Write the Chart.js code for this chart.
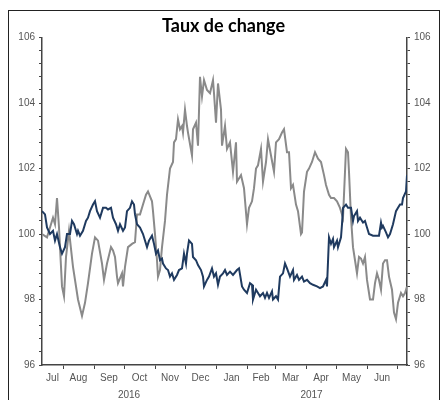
<!DOCTYPE html>
<html>
<head>
<meta charset="utf-8">
<script src="https://cdn.jsdelivr.net/npm/chart.js@4.4.1/dist/chart.umd.min.js"></script>
<style>
  html, body { margin: 0; padding: 0; background: #fff; }
  #wrap { position: relative; width: 447px; height: 400px; overflow: hidden; }
  #frame { position: absolute; left: 8px; top: 10px; width: 432px; height: 400px; border: 1px solid #222; box-sizing: border-box; }
  #chartArea { position: absolute; left: 0; top: 0; }
</style>
</head>
<body>
<div id="wrap">
  <div id="frame"></div>
  <canvas id="chartArea" width="447" height="400"></canvas>
</div>
<script>
// days counted from 11 Jul 2016
const monthStarts = [21, 52, 82, 113, 143, 174, 205, 233, 264, 294, 325, 355];
const monthLabels = ['Jul', 'Aug', 'Sep', 'Oct', 'Nov', 'Dec', 'Jan', 'Feb', 'Mar', 'Apr', 'May', 'Jun'];
const monthMids = [10.5, 36.5, 67, 97.5, 128, 158.5, 189.5, 219, 248.5, 279, 309.5, 340];
const yearLabels = ['2016', '2017'];
const yearMids = [87, 269.5];

const grayDays = [0, 5, 8, 11, 13, 15, 17, 20, 22, 24, 27, 31, 36, 40, 43, 46, 50, 53, 56, 60,
  62, 65, 69, 71, 73, 75, 76, 80, 81, 83, 86, 90, 93, 95, 98, 101, 104, 106, 110, 111,
  113, 115, 116, 118, 120, 123, 125, 128, 131, 132, 134, 136, 138, 140, 141, 143, 145, 146, 150, 151,
  154, 156, 158, 160, 162, 165, 168, 171, 172, 174, 176, 179, 180, 183, 185, 188, 191, 194, 195, 199,
  202, 205, 207, 210, 212, 214, 216, 219, 221, 224, 226, 229, 232, 234, 237, 240, 242, 245, 247, 249,
  251, 254, 256, 259, 260, 262, 265, 267, 270, 273, 276, 279, 282, 284, 287, 289, 292, 295, 298, 301,
  304, 306, 307, 309, 311, 313, 315, 317, 319, 321, 323, 325, 328, 331, 333, 335, 337, 339, 341, 343,
  345, 347, 350, 352, 354, 356, 359, 361, 363, 365];
const grayValues = [100.0, 99.9, 100.2, 100.5, 100.3, 101.1, 100.2, 98.4, 98.1, 99.3, 100.1, 99.0, 98.0, 97.5, 97.9, 98.5, 99.4, 99.9, 99.8, 99.1,
  98.6, 99.1, 99.6, 99.5, 99.3, 98.7, 98.5, 98.8, 98.4, 99.0, 99.6, 99.7, 99.75, 100.6, 100.6, 100.9, 101.2, 101.3, 101.0, 100.7,
  100.0, 99.2, 98.7, 98.9, 99.6, 100.4, 101.2, 102.0, 102.2, 102.8, 102.9, 103.5, 103.2, 103.3, 103.1, 103.8, 103.3, 103.1, 102.4, 103.2,
  103.4, 102.7, 104.8, 104.2, 104.7, 104.4, 104.3, 104.7, 104.3, 103.4, 104.6, 103.8, 102.7, 103.3, 102.6, 102.8, 101.9, 102.8, 101.6, 101.8,
  101.4, 100.3, 100.8, 101.0, 101.4, 102.0, 102.1, 102.6, 101.6, 102.2, 102.9, 102.4, 101.9, 102.8, 102.9, 103.1, 103.2, 102.5, 102.5, 101.4,
  101.5, 100.9, 100.7, 100.0, 100.05, 101.3, 101.9, 102.0, 102.2, 102.5, 102.3, 102.2, 101.8, 101.5, 101.2, 101.1, 101.1, 101.0, 100.8, 100.5,
  102.6, 102.5, 101.9, 100.5, 99.6, 99.2, 98.8, 99.3, 99.25, 99.1, 99.3, 98.6, 98.0, 98.0, 98.5, 98.8, 98.6, 98.3, 99.1, 99.2,
  99.2, 98.7, 98.3, 97.6, 97.4, 97.9, 98.2, 98.1, 98.2, 98.4];

const navyDays = [0, 3, 5, 8, 11, 13, 15, 18, 20, 23, 25, 28, 30, 32, 35, 36, 38, 41, 44, 46,
  48, 51, 53, 55, 58, 61, 64, 66, 69, 71, 74, 76, 78, 81, 83, 85, 88, 90, 92, 93,
  95, 98, 101, 105, 107, 110, 112, 114, 116, 118, 120, 121, 124, 126, 128, 130, 132, 135, 137, 140,
  142, 144, 145, 147, 150, 151, 154, 156, 159, 161, 162, 165, 167, 170, 172, 174, 176, 178, 181, 183,
  185, 188, 191, 195, 197, 200, 202, 205, 208, 210, 211, 214, 216, 218, 221, 223, 225, 227, 230, 231,
  234, 236, 238, 241, 243, 245, 248, 251, 252, 255, 257, 260, 262, 265, 268, 271, 275, 278, 281, 284,
  285, 287, 289, 291, 292, 295, 296, 299, 300, 301, 304, 306, 309, 311, 312, 315, 316, 318, 321, 323,
  325, 327, 331, 335, 337, 339, 340, 341, 344, 346, 348, 351, 354, 356, 358, 360, 361, 364, 365];
const navyValues = [100.7, 100.6, 100.2, 100.0, 100.1, 99.8, 100.0, 99.6, 99.4, 99.6, 100.0, 100.0, 100.4, 100.3, 100.0, 100.1, 99.95, 100.1, 100.4, 100.5,
  100.7, 100.9, 101.0, 100.7, 100.5, 100.8, 100.8, 100.75, 100.8, 100.5, 100.3, 100.1, 100.3, 100.1, 100.2, 100.7, 100.8, 101.0, 100.9, 100.6,
  100.3, 100.2, 100.0, 99.6, 99.8, 99.95, 99.7, 99.4, 99.5, 99.2, 99.25, 99.1, 98.95, 98.9, 98.7, 98.8, 98.6, 98.75, 98.9, 98.95,
  99.4, 99.1, 99.4, 99.8, 99.7, 99.3, 99.2, 99.05, 98.9, 98.7, 98.4, 98.6, 98.7, 98.95, 98.7, 98.8, 98.45, 98.7, 98.8, 98.9,
  98.75, 98.85, 98.75, 98.9, 98.95, 98.4, 98.3, 98.2, 98.5, 98.45, 98.0, 98.3, 98.2, 98.1, 98.2, 98.05, 98.2, 98.05, 98.25, 98.0,
  98.1, 98.0, 98.7, 98.8, 99.1, 98.95, 98.7, 98.9, 98.6, 98.75, 98.6, 98.7, 98.55, 98.6, 98.5, 98.45, 98.4, 98.35, 98.4, 98.6,
  98.4, 99.9, 99.7, 99.85, 99.6, 99.8, 99.6, 99.9, 100.3, 100.8, 100.9, 100.8, 100.8, 100.4, 100.55, 100.7, 100.4, 100.5, 100.35, 100.4,
  100.2, 100.0, 99.95, 99.95, 99.95, 100.35, 100.2, 100.25, 100.05, 99.9, 100.0, 100.3, 100.7, 100.8, 100.9, 100.9, 101.1, 101.3, 101.8];

const yTicks = [];
for (let i = 0; i <= 25; i++) yTicks.push(Math.round((96 + i * 0.4) * 10) / 10);

function toPoints(xs, ys) {
    return xs.map((x, i) => ({ x: x, y: ys[i] }));
}

const axisColor = '#444';
const labelColor = '#555';
const tickFont = { family: 'Liberation Sans', size: 10 };

function yLabel(v) {
    const r = Math.round(v);
    return (Math.abs(v - r) < 1e-6 && r % 2 === 0) ? String(r) : '';
}

function yAxis(position, width) {
    return {
        type: 'linear',
        position: position,
        min: 96,
        max: 106,
        afterBuildTicks: scale => { scale.ticks = yTicks.map(v => ({ value: v })); },
        afterFit: scale => { scale.width = width; },
        grid: { drawOnChartArea: false, drawTicks: true, tickLength: 3, color: axisColor, lineWidth: 1 },
        border: { display: true, color: axisColor, width: 1.5 },
        ticks: { autoSkip: false, color: labelColor, font: tickFont, padding: 4, callback: v => yLabel(v) }
    };
}

function xAxis(values, labels, height, pad, showLine) {
    return {
        type: 'linear',
        position: 'bottom',
        min: 0,
        max: 365,
        afterBuildTicks: scale => { scale.ticks = values.map(v => ({ value: v })); },
        afterFit: scale => { scale.height = height; },
        grid: { display: showLine, drawOnChartArea: false, drawTicks: showLine, tickLength: 4, color: axisColor },
        border: { display: showLine, color: axisColor, width: 1.5 },
        ticks: {
            display: labels !== null,
            autoSkip: false,
            maxRotation: 0,
            color: labelColor,
            font: tickFont,
            padding: pad,
            callback: (v, i) => labels ? labels[i] : ''
        }
    };
}

new Chart(document.getElementById('chartArea').getContext('2d'), {
    type: 'line',
    data: {
        datasets: [{
            data: toPoints(navyDays, navyValues),
            borderColor: '#1f3a5f',
            borderWidth: 2,
            pointRadius: 0,
            tension: 0,
            xAxisID: 'xTicks',
            yAxisID: 'yLeft'
        }, {
            data: toPoints(grayDays, grayValues),
            borderColor: '#8a8a8a',
            borderWidth: 2,
            pointRadius: 0,
            tension: 0,
            xAxisID: 'xTicks',
            yAxisID: 'yLeft'
        }]
    },
    options: {
        responsive: false,
        animation: false,
        devicePixelRatio: 1,
        layout: { padding: { left: 0, right: 0, top: 0, bottom: 0 } },
        plugins: {
            legend: { display: false },
            tooltip: { enabled: false },
            title: {
                display: true,
                text: 'Taux de change',
                color: '#000',
                font: { family: 'Lato', size: 18, weight: 'bold' },
                padding: { top: 15, bottom: 1 }
            }
        },
        scales: {
            xTicks: xAxis(monthStarts, null, 4, 0, true),
            xMonths: xAxis(monthMids, monthLabels, 18, 3, false),
            xYears: xAxis(yearMids, yearLabels, 13, 2, false),
            yLeft: yAxis('left', 42),
            yRight: yAxis('right', 40)
        }
    }
});
</script>
</body>
</html>
